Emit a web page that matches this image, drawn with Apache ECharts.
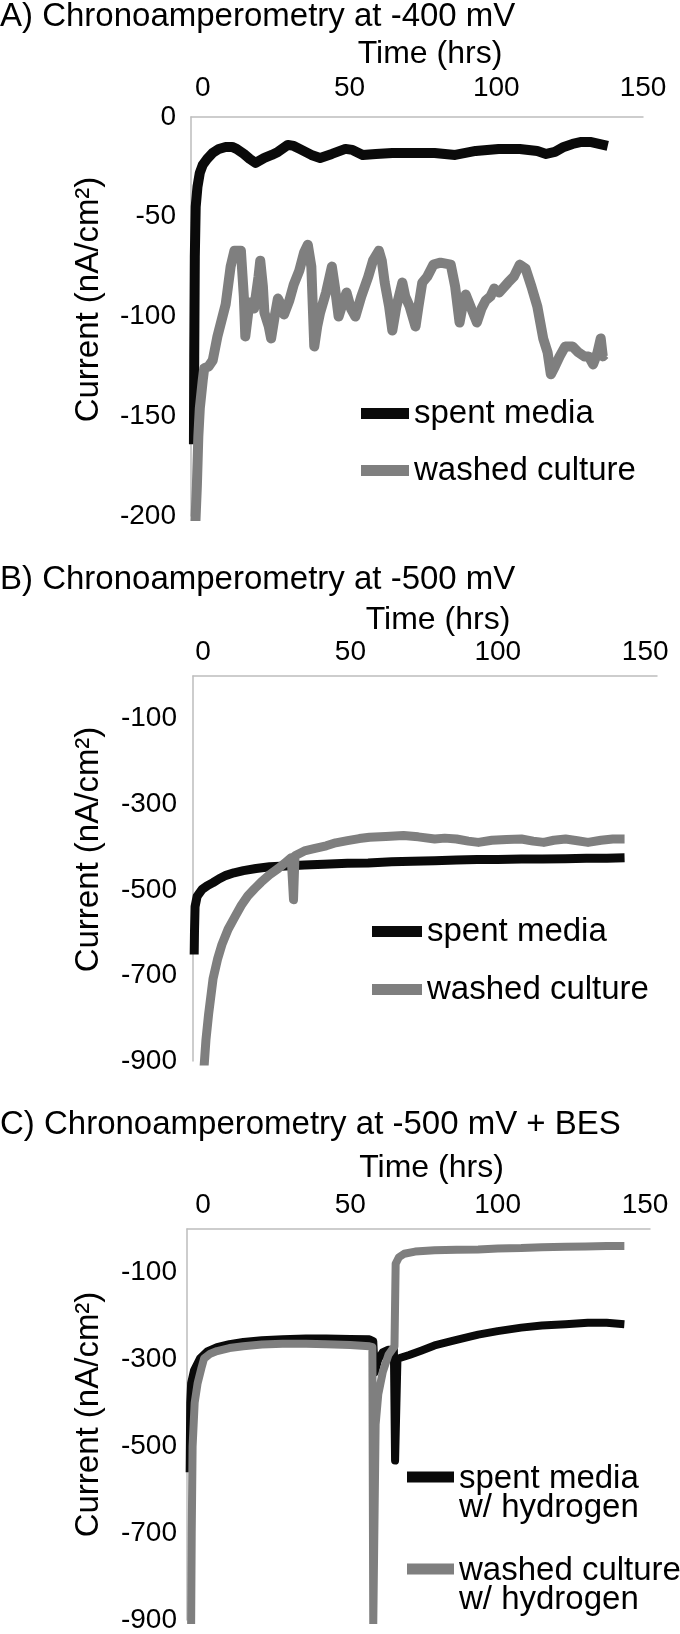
<!DOCTYPE html>
<html>
<head>
<meta charset="utf-8">
<style>
html, body { margin: 0; padding: 0; background: #fff; }
#chart { width: 680px; height: 1634px; }
</style>
<script src="https://cdn.jsdelivr.net/npm/echarts@6/dist/echarts.min.js"></script>
</head>
<body>
<div id="chart"></div>
<script>
var titles = ['A) Chronoamperometry at -400 mV', 'B) Chronoamperometry at -500 mV', 'C) Chronoamperometry at -500 mV + BES'];
var xName = 'Time (hrs)';
var yName = 'Current (nA/cm²)';
var timeTicks = [0, 50, 100, 150];
var currentTicksBC = [-900, -700, -500, -300, -100];
var namesAB = ['spent media', 'washed culture'];
var namesC = ['spent media\nw/ hydrogen', 'washed culture\nw/ hydrogen'];

// [time (hrs), current (nA/cm2)]
var spentA = [[-3, -164], [-2.9, -120], [-2.7, -70], [-2.4, -45], [-1.8, -35], [-1, -28], [0, -24], [1.5, -21], [3.4, -18], [5.5, -16], [7.8, -15], [10, -15], [11.5, -16], [14, -18.5], [16, -21], [18, -23], [21, -20.5], [23.5, -19], [25.6, -17.5], [29, -14], [31, -14.5], [33, -16], [37, -19], [40, -20.5], [44, -18.5], [48.6, -16], [51, -16.5], [54.5, -19], [59, -18.5], [64.6, -18], [72, -18], [79, -18], [86, -19], [93, -17], [100.8, -16], [108, -16], [114, -17], [117, -18.5], [120, -17.5], [123, -15], [126, -13.5], [129, -12.5], [132, -12.5], [135, -13.5], [138, -14.5]];
var washedA = [[-2.5, -203], [-2, -185], [-1.5, -160], [-1, -146], [0, -132], [0.5, -126], [2, -125], [3.4, -122], [5, -110], [7.8, -94], [9.5, -75], [10.8, -67], [13, -67], [14, -90], [14.5, -110], [15.5, -98], [16, -93], [17.5, -96], [19, -80], [19.6, -72], [20.5, -85], [21, -98], [22.5, -105], [23.3, -111], [24.5, -100], [25.6, -91], [27, -95], [27.7, -99], [29.5, -92], [31, -84], [32.9, -77], [34.5, -68], [35.8, -64], [37, -75], [38, -115], [39, -105], [40, -98], [42, -88], [44, -75], [45, -85], [46.3, -100], [48, -92], [49, -88], [50.5, -96], [52, -100], [54, -90], [56.4, -80], [58, -72], [60, -67], [61, -72], [62, -83], [63.5, -95], [64.6, -107], [66, -95], [68, -83], [69, -90], [70.5, -95], [72.5, -105], [73.5, -95], [74.8, -83], [76.5, -80], [78.6, -74], [81, -73], [84.5, -74], [86, -85], [87.5, -103], [88.5, -95], [89.6, -89], [91.5, -96], [93.4, -103], [95, -96], [96.4, -92], [98, -90], [99.3, -86], [101, -88], [104, -83], [106, -80], [108, -74], [110, -76], [112, -85], [114, -95], [116, -111], [117.5, -118], [118.6, -129], [120, -125], [121.6, -120], [123.5, -115], [126, -115], [128, -118], [130, -120], [131.5, -120], [133, -124], [134.5, -118], [135.6, -111], [136.3, -120], [137, -119]];
var spentB = [[-3, -651], [-2.9, -600], [-2.7, -539], [-2, -515], [-0.3, -499], [1.5, -490], [3.4, -483], [5.5, -474], [7.8, -466], [10.5, -460], [13.7, -455], [18, -450], [22.6, -446], [28, -444], [34.4, -442], [41, -440], [49, -438], [56, -437], [64, -434], [71, -433], [78.6, -432], [86, -430], [93, -429], [100, -429], [108, -428], [115, -428], [123, -427], [130, -426], [137, -426], [143, -425]];
var washedB = [[0.3, -919], [1, -850], [1.9, -790], [3.4, -708], [5, -660], [6.4, -628], [8.5, -592], [10.8, -563], [13, -536], [15.2, -514], [17.5, -497], [19.7, -482], [22.5, -465], [25.5, -450], [28, -436], [29.9, -425], [30.5, -422], [30.7, -523], [31, -523], [31.2, -420], [34.4, -409], [38, -403], [41.8, -397], [45, -390], [49, -385], [53, -380], [56.5, -377], [62, -375], [68, -373], [73, -376], [78.6, -381], [82, -379], [86, -381], [90, -386], [93.4, -389], [98, -384], [103, -382], [108, -381], [112, -386], [115.6, -389], [119, -384], [123, -381], [127, -385], [130.6, -389], [135, -384], [139, -381], [143, -381]];
var spentC = [[-4.5, -560], [-4.3, -400], [-4, -355], [-3, -325], [-1, -298], [1.5, -282], [4.8, -272], [9, -265], [13.7, -260], [20, -256], [27, -254], [35, -252], [41.8, -252], [50, -253], [56.5, -254], [57.8, -258], [58.3, -330], [59.5, -300], [61, -284], [62.8, -278], [64.8, -278], [65.2, -533], [65.6, -533], [66, -300], [66.8, -297], [70, -290], [74, -280], [78.6, -268], [85, -257], [93.4, -243], [100, -235], [108, -227], [115, -222], [123, -219], [130.6, -216], [137, -216], [143, -219]];
var washedC = [[-4, -913], [-3.8, -700], [-3.5, -500], [-2.8, -400], [-1.8, -355], [-0.5, -320], [0.4, -298], [2.5, -287], [4.8, -281], [9, -274], [13.7, -270], [20, -266], [27, -264], [35, -264], [41.8, -265], [50, -267], [56.5, -270], [57.5, -272], [57.8, -910], [58.4, -910], [58.6, -450], [59.5, -380], [61, -330], [63, -289], [64.5, -275], [65, -270], [65.4, -80], [66.5, -65], [68.3, -57], [72, -52], [78.6, -49], [86, -48], [93.4, -47], [100, -45], [108, -44], [115, -42], [123, -41], [130, -40], [137, -39], [143, -39]];

(function () {
  var font = "'Liberation Sans', Arial, sans-serif";
  var ink = '#000';
  var rule = '#bdbdbd';
  var dark = '#0a0a0a';
  var grey = '#7f7f7f';

  var chart = echarts.init(document.getElementById('chart'));

  function xAxis(i, min, max, gap, margin) {
    return {
      gridIndex: i, type: 'value', position: 'top', min: min, max: max,
      name: xName, nameLocation: 'middle', nameGap: gap,
      nameTextStyle: { fontSize: 32, color: ink, padding: [0, 0, 0, 26] },
      axisLine: { show: true, onZero: false, lineStyle: { color: rule, width: 1.5 } },
      axisTick: { show: false },
      splitLine: { show: false },
      axisLabel: { customValues: timeTicks, fontSize: 28, color: ink, margin: margin }
    };
  }

  function yAxis(i, min, gap, margin, shift, ticks) {
    var ax = {
      gridIndex: i, type: 'value', min: min, max: 0,
      name: yName, nameLocation: 'middle', nameGap: gap,
      nameTextStyle: { fontSize: 33, color: ink, padding: [0, 0, 0, shift * 2] },
      axisLine: { show: true, onZero: false, lineStyle: { color: rule, width: 1.5 } },
      axisTick: { show: false },
      splitLine: { show: false },
      axisLabel: { fontSize: 28, color: ink, margin: margin }
    };
    if (ticks) ax.axisLabel.customValues = ticks;
    else ax.interval = 50;
    return ax;
  }

  function line(name, data, i, color, w) {
    return {
      type: 'line', name: name, data: data, xAxisIndex: i, yAxisIndex: i,
      symbol: 'none', color: color,
      lineStyle: { color: color, width: w, join: 'round' }
    };
  }

  function legend(names, left, top, w, gap) {
    return {
      data: names, orient: 'vertical', left: left, top: top, padding: 0,
      icon: 'rect', itemWidth: w, itemHeight: 11, itemGap: gap,
      selectedMode: false,
      textStyle: { fontSize: 33, lineHeight: 33, color: ink }
    };
  }

  // one legend per two-line entry; an invisible spacer line on top keeps
  // the first text line level with the icon
  function legend2(name, left, top) {
    return {
      data: [name], orient: 'vertical', left: left, top: top, padding: 0,
      icon: 'rect', itemWidth: 47, itemHeight: 11,
      selectedMode: false,
      formatter: function (n) {
        var parts = n.split('\n');
        return '{s|.}\n{t|' + parts[0] + '}\n{t|' + parts[1] + '}';
      },
      textStyle: {
        fontSize: 33, color: ink,
        rich: {
          s: { fontSize: 2, lineHeight: 33, color: 'rgba(0,0,0,0)' },
          t: { fontSize: 33, lineHeight: 29, color: ink }
        }
      }
    };
  }

  chart.setOption({
    animation: false,
    textStyle: { fontFamily: font },
    title: [
      { text: titles[0], left: 0, top: 0, padding: 0, textStyle: { fontSize: 33, lineHeight: 33, fontWeight: 'normal', color: ink } },
      { text: titles[1], left: 0, top: 563, padding: 0, textStyle: { fontSize: 33, lineHeight: 33, fontWeight: 'normal', color: ink } },
      { text: titles[2], left: 0, top: 1108, padding: 0, textStyle: { fontSize: 33, lineHeight: 33, fontWeight: 'normal', color: ink } }
    ],
    grid: [
      { left: 191, top: 117, width: 452, height: 399 },
      { left: 193, top: 676, width: 464, height: 385 },
      { left: 187, top: 1229, width: 463, height: 393 }
    ],
    xAxis: [
      xAxis(0, -4, 150, 47, 15),
      xAxis(1, -3.4, 154, 40, 10),
      xAxis(2, -5.4, 151.7, 45, 10)
    ],
    yAxis: [
      yAxis(0, -200, 86, 15, 17, null),
      yAxis(1, -900, 88, 16, 19, currentTicksBC),
      yAxis(2, -900, 82, 10, 10, currentTicksBC)
    ],
    legend: [
      legend(namesAB, 361, 397, 48, 24),
      legend(namesAB, 372, 915, 50, 25),
      legend2(namesC[0], 407, 1447),
      legend2(namesC[1], 407, 1539)
    ],
    series: [
      line(namesAB[0], spentA, 0, dark, 10),
      line(namesAB[1], washedA, 0, grey, 10),
      line(namesAB[0], spentB, 1, dark, 9),
      line(namesAB[1], washedB, 1, grey, 9),
      line(namesC[0], spentC, 2, dark, 8),
      line(namesC[1], washedC, 2, grey, 8)
    ]
  });
  window.addEventListener('resize', function () { chart.resize(); });
})();
</script>
</body>
</html>
